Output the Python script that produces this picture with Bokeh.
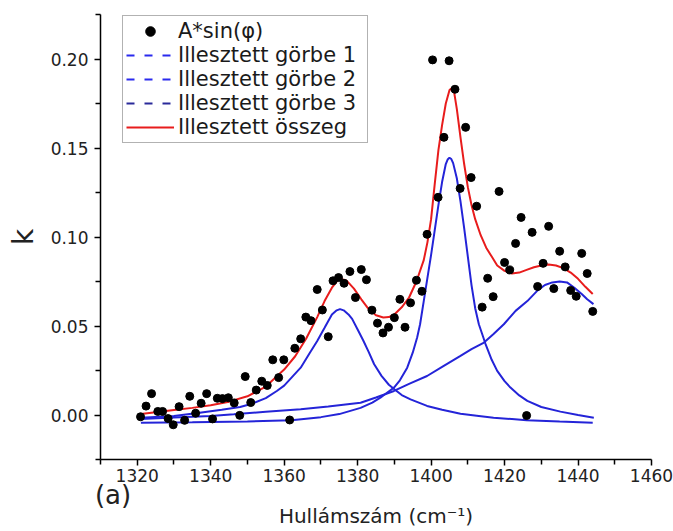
from bokeh.plotting import figure
from bokeh.models import (Range1d, FixedTicker, PrintfTickFormatter, Legend, LegendItem,
                          LinearAxis)
from bokeh.embed import file_html
from bokeh.resources import INLINE

# ---- measured data points: A*sin(phi) ----
wavenumber = [1320.9, 1322.4, 1323.9, 1325.6, 1326.9, 1328.4, 1329.8, 1331.4, 1332.9, 1334.3,
              1335.9, 1337.4, 1338.9, 1340.5, 1341.8, 1343.2, 1344.8, 1346.4, 1347.9,
              1349.4, 1350.9, 1352.4, 1353.9, 1355.4, 1356.9, 1358.5, 1359.9, 1361.5, 1362.9,
              1364.5, 1365.9, 1367.3, 1369.0, 1370.4, 1372.0, 1373.3, 1374.8, 1376.3, 1377.9,
              1379.4, 1381.0, 1382.4,
              1383.9, 1385.4, 1386.9, 1388.4, 1390.0, 1391.5, 1392.9, 1394.4, 1396.0, 1397.5, 1398.9,
              1400.4, 1401.9, 1403.5, 1404.9, 1406.5, 1407.9, 1409.4, 1410.9, 1412.4, 1413.9,
              1415.4, 1416.9, 1418.5, 1420.0, 1421.4, 1423.0, 1424.5, 1426.0, 1427.5, 1429.0,
              1430.5, 1432.0, 1433.4, 1435.0, 1436.5, 1438.0, 1439.5, 1441.0, 1442.5, 1444.0]
k_values = [-0.001, 0.005, 0.012, 0.002, 0.002, -0.002, -0.0055, 0.0047, -0.003, 0.0105,
            0.001, 0.0066, 0.012, -0.0022, 0.0094, 0.0092, 0.0097, 0.0068, -0.0002,
            0.0216, 0.007, 0.014, 0.019, 0.0166, 0.031, 0.021, 0.031, -0.0028, 0.0375,
            0.0428, 0.055, 0.053, 0.0705, 0.059, 0.044, 0.0754, 0.0772, 0.074, 0.0806,
            0.066, 0.0817, 0.076,
            0.0589, 0.0516, 0.0461, 0.0493, 0.0547, 0.065, 0.0493, 0.063, 0.0757, 0.0695, 0.1015,
            0.1995, 0.1223, 0.156, 0.199, 0.183, 0.1273, 0.1616, 0.1334, 0.1173, 0.0606,
            0.0768, 0.0665, 0.1256, 0.0857, 0.0815, 0.0964, 0.111, -0.0003, 0.1026, 0.0722,
            0.0852, 0.106, 0.071, 0.092, 0.0832, 0.070, 0.0667, 0.0908, 0.0795, 0.0582]

# ---- fitted curve 1 ----
c1_x = [1321, 1330, 1337, 1343, 1348, 1351, 1355, 1358, 1360, 1362, 1364.5, 1367, 1369, 1371,
        1373, 1374.3, 1375.2, 1376.2, 1377.5, 1378.5, 1380, 1381.5, 1383, 1384.5, 1386.5,
        1388.5, 1390, 1392, 1394.4, 1398.9, 1403, 1408, 1413, 1417, 1422, 1426, 1435, 1444]
c1_y = [-0.0015, -0.0005, 0.0013, 0.003, 0.0045, 0.0062, 0.0095, 0.0135, 0.0165, 0.021, 0.0266,
        0.035, 0.0416, 0.049, 0.0565, 0.0588, 0.0595, 0.0588, 0.0565, 0.054, 0.048, 0.042,
        0.0355, 0.0285, 0.022, 0.017, 0.0145, 0.0112, 0.0088, 0.0051, 0.003, 0.0007, -0.0005,
        -0.0015, -0.0023, -0.003, -0.0037, -0.0043]

# ---- fitted curve 2 ----
c2_x = [1321, 1335, 1350, 1362, 1370, 1375, 1380.8, 1384, 1386.2, 1388, 1389.9, 1391.5, 1393.5,
        1395, 1396.2, 1397, 1398, 1399, 1400, 1401, 1402, 1403, 1404, 1404.5, 1405, 1405.5, 1406,
        1407, 1408, 1409, 1410, 1411, 1412, 1413, 1414.8, 1416.5, 1418, 1420, 1421.6, 1424,
        1426.2, 1430, 1435.2, 1440, 1444.3]
c2_y = [-0.0043, -0.0041, -0.0036, -0.003, -0.0012, 0.0005, 0.004, 0.007, 0.0097, 0.0125, 0.0154,
        0.0195, 0.0266, 0.035, 0.0435, 0.051, 0.064, 0.077, 0.090, 0.104, 0.118, 0.131, 0.141,
        0.1435, 0.1445, 0.1438, 0.1415, 0.133, 0.120, 0.105, 0.089, 0.073, 0.060, 0.051, 0.040,
        0.031, 0.0248, 0.019, 0.0154, 0.011, 0.0079, 0.0045, 0.0019, 0.0, -0.0015]

# ---- fitted curve 3 ----
c3_x = [1321, 1330, 1340, 1346.3, 1355, 1364.5, 1372, 1380.8, 1385, 1389.9, 1394, 1398.9, 1403,
        1408, 1411, 1414.4, 1417, 1419.8, 1423, 1426.2, 1429, 1431, 1433, 1435, 1437, 1439, 1441,
        1442.5, 1444.2]
c3_y = [-0.0022, -0.0014, -0.0005, 0.0004, 0.0018, 0.0032, 0.0048, 0.0069, 0.0098, 0.0135, 0.0175,
        0.0219, 0.027, 0.0332, 0.037, 0.0407, 0.0455, 0.051, 0.0585, 0.064, 0.070, 0.073, 0.0745,
        0.075, 0.0745, 0.0715, 0.068, 0.065, 0.0623]

# ---- fitted sum ----
sum_x = [1321, 1325, 1330, 1335, 1340, 1345, 1350, 1355, 1360, 1363, 1366, 1369, 1371, 1373, 1374.5,
         1375.5, 1377, 1379, 1381, 1383, 1385, 1387, 1388.5, 1390, 1392, 1394, 1396, 1398, 1399,
         1400, 1401, 1402, 1403, 1404, 1405, 1405.6, 1406.3, 1407, 1408, 1409, 1410, 1411, 1412,
         1413.5, 1415, 1416.5, 1418, 1420, 1422, 1424, 1426, 1428, 1430, 1432, 1434, 1436, 1438,
         1440, 1442, 1444]
sum_y = [0.0005, 0.0015, 0.0028, 0.004, 0.0055, 0.0075, 0.0105, 0.016, 0.0255, 0.033, 0.043, 0.055,
         0.064, 0.0715, 0.0755, 0.0765, 0.0755, 0.071, 0.065, 0.0595, 0.056, 0.0548, 0.055, 0.0565,
         0.0605, 0.066, 0.075, 0.087, 0.097, 0.110, 0.130, 0.149, 0.163, 0.175, 0.1825, 0.1835,
         0.181, 0.172, 0.156, 0.141, 0.128, 0.118, 0.110, 0.101, 0.094, 0.089, 0.084, 0.081,
         0.0795, 0.080, 0.0815, 0.083, 0.084, 0.0845, 0.084, 0.0825, 0.080, 0.0765, 0.072, 0.068]

x_major = [1320, 1340, 1360, 1380, 1400, 1420, 1440, 1460]
x_minor = [1310, 1330, 1350, 1370, 1390, 1410, 1430, 1450]
y_major = [0.0, 0.05, 0.10, 0.15, 0.20]
y_minor = [-0.025, 0.025, 0.075, 0.125, 0.175, 0.225]

legend_labels = ["A*sin(\u03c6)", "Illesztett görbe 1", "Illesztett görbe 2",
                 "Illesztett görbe 3", "Illesztett összeg"]
panel_tag = "(a)"
panel_tag_at = 1313.4
x_title = "Hullámszám (cm\u207b\u00b9)"
y_title = "k"

BLUE = "#2424d8"
RED = "#e81c1c"
FONT = "DejaVu Sans"

p = figure(width=673, height=531, output_backend="svg", toolbar_location=None,
           x_range=Range1d(1310, 1460), y_range=Range1d(-0.025, 0.225),
           min_border_left=100, min_border_right=22, min_border_top=14, min_border_bottom=72)
p.xgrid.visible = False
p.ygrid.visible = False
p.outline_line_color = None
p.background_fill_color = "white"

p.line(c1_x, c1_y, line_color=BLUE, line_width=2)
p.line(c2_x, c2_y, line_color=BLUE, line_width=2)
p.line(c3_x, c3_y, line_color=BLUE, line_width=2)
p.line(sum_x, sum_y, line_color=RED, line_width=2)
p.scatter(wavenumber, k_values, size=8, color="black")

# legend proxies (outside the visible ranges so only the legend shows them)
px = [1200, 1201]
py = [1.0, 1.0]
r_dot = p.scatter(x=px, y=py, size=6, color="black")
r_d1 = p.line(x=px, y=py, line_color="#2a2aee", line_width=2, line_dash="8 10")
r_d2 = p.line(x=px, y=py, line_color="#2a2aee", line_width=2, line_dash="8 10")
r_d3 = p.line(x=px, y=py, line_color="#2a2a9a", line_width=2, line_dash="8 10")
r_sum = p.line(x=px, y=py, line_color=RED, line_width=2)

legend = Legend(items=[LegendItem(label=lab, renderers=[r]) for lab, r in
                       zip(legend_labels, [r_dot, r_d1, r_d2, r_d3, r_sum])],
                location=(22, 316))
legend.padding = 3
legend.spacing = 0
legend.margin = 0
legend.glyph_width = 48
legend.glyph_height = 24
legend.label_height = 24
legend.label_width = 186
legend.label_standoff = 4
legend.label_text_font = FONT
legend.label_text_font_size = "21px"
legend.label_text_color = "#1a1a1a"
legend.border_line_color = "#666666"
legend.border_line_width = 1
legend.background_fill_color = "white"
legend.background_fill_alpha = 1.0
p.add_layout(legend)

for ax in (p.xaxis[0], p.yaxis[0]):
    ax.axis_line_color = "black"
    ax.axis_line_width = 1.5
    ax.major_tick_line_color = "black"
    ax.minor_tick_line_color = "black"
    ax.major_tick_line_width = 1.5
    ax.minor_tick_line_width = 1.5
    ax.major_tick_in = 0
    ax.major_tick_out = 6
    ax.minor_tick_in = 0
    ax.minor_tick_out = 5
    ax.major_label_text_font = FONT
    ax.major_label_text_font_size = "17px"
    ax.major_label_text_color = "#222222"

p.xaxis.ticker = FixedTicker(ticks=x_major, minor_ticks=x_minor)
p.yaxis.ticker = FixedTicker(ticks=y_major, minor_ticks=y_minor)
p.yaxis.formatter = PrintfTickFormatter(format="%.2f")
p.xaxis.major_label_standoff = 3
p.yaxis.major_label_standoff = 6

p.yaxis.axis_label = y_title
p.yaxis.axis_label_text_font = FONT
p.yaxis.axis_label_text_font_size = "28px"
p.yaxis.axis_label_text_font_style = "normal"
p.yaxis.axis_label_text_color = "#222222"
p.yaxis.axis_label_standoff = 8

# second, line-less axis below: carries the "(a)" tag and the x title
ax2 = LinearAxis(ticker=FixedTicker(ticks=[panel_tag_at], minor_ticks=[]),
                 major_label_overrides={panel_tag_at: panel_tag})
ax2.axis_line_color = None
ax2.major_tick_line_color = None
ax2.minor_tick_line_color = None
ax2.major_tick_in = 0
ax2.major_tick_out = 0
ax2.minor_tick_in = 0
ax2.minor_tick_out = 0
ax2.major_label_standoff = -5
ax2.major_label_text_font = FONT
ax2.major_label_text_font_size = "26px"
ax2.major_label_text_color = "#222222"
ax2.axis_label = x_title
ax2.axis_label_text_font = FONT
ax2.axis_label_text_font_size = "20px"
ax2.axis_label_text_font_style = "normal"
ax2.axis_label_text_color = "#222222"
ax2.axis_label_standoff = -9
p.add_layout(ax2, "below")

open("out.html", "w").write(file_html(p, INLINE))
